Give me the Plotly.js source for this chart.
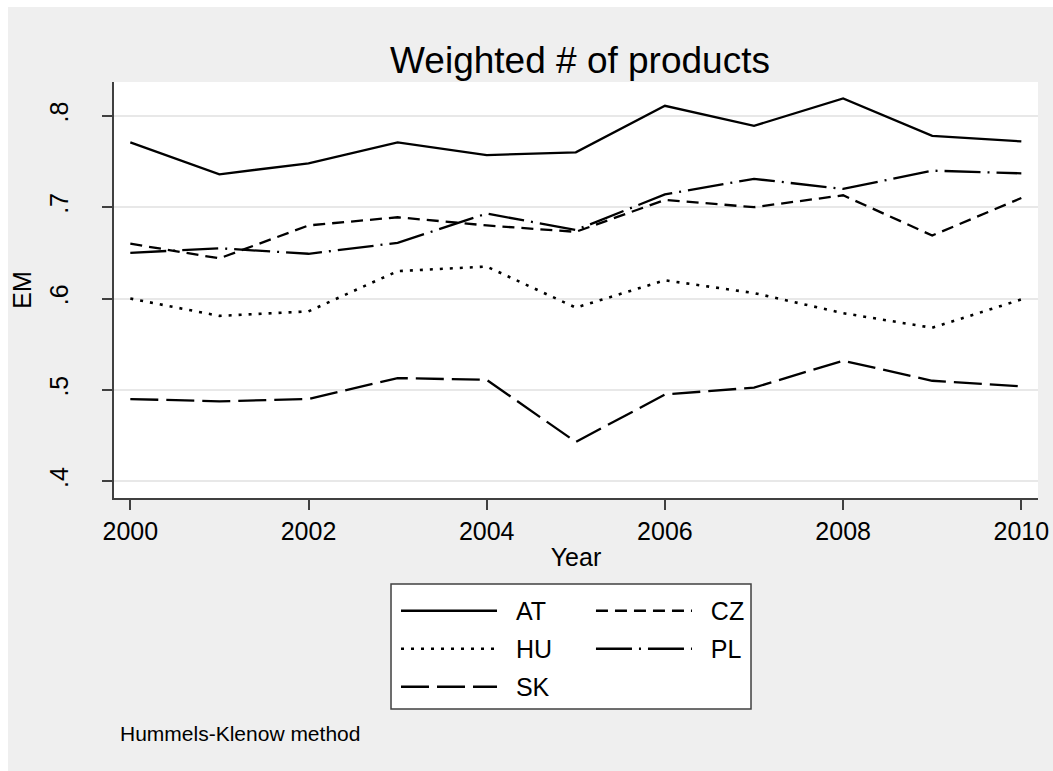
<!DOCTYPE html>
<html>
<head>
<meta charset="utf-8">
<script src="https://cdn.plot.ly/plotly-3.0.1.min.js"></script>
<style>
  html, body { margin: 0; padding: 0; background: #ffffff; }
  #chart { position: absolute; left: 8px; top: 7px; width: 1045px; height: 764px; }
</style>
</head>
<body>
<div id="chart"></div>
<script>
const years = [2000, 2001, 2002, 2003, 2004, 2005, 2006, 2007, 2008, 2009, 2010];
const AT = [0.771, 0.736, 0.748, 0.771, 0.757, 0.760, 0.811, 0.789, 0.819, 0.778, 0.772];
const CZ = [0.660, 0.644, 0.680, 0.689, 0.680, 0.673, 0.708, 0.700, 0.713, 0.669, 0.710];
const HU = [0.600, 0.581, 0.586, 0.630, 0.635, 0.590, 0.620, 0.606, 0.584, 0.568, 0.599];
const PL = [0.650, 0.655, 0.649, 0.661, 0.693, 0.675, 0.714, 0.731, 0.720, 0.740, 0.737];
const SK = [0.490, 0.4875, 0.490, 0.513, 0.511, 0.443, 0.495, 0.5025, 0.532, 0.510, 0.504];
const yTickVals = [0.4, 0.5, 0.6, 0.7, 0.8];
const yTickText = ['.4', '.5', '.6', '.7', '.8'];
const xTickVals = [2000, 2002, 2004, 2006, 2008, 2010];

const FONT = 'Liberation Sans, Arial, sans-serif';
const NB = '\u00a0\u00a0';
function tr(name, y, dash, width, legend) {
  return {
    x: years, y: y, name: NB + name, type: 'scatter', mode: 'lines',
    line: { color: '#000000', width: width, dash: dash },
    legend: legend, legendgroup: name, hoverinfo: 'x+y+name'
  };
}
const data = [
  tr('AT', AT, 'solid', 2.3, 'legend'),
  tr('CZ', CZ, '12px,7px', 2.3, 'legend2'),
  tr('HU', HU, '3px,7px', 2.6, 'legend'),
  tr('PL', PL, '36px,7px,2px,7px', 2.3, 'legend2'),
  tr('SK', SK, '28px,8px', 2.3, 'legend')
];

const legendCommon = {
  bgcolor: 'rgba(0,0,0,0)', borderwidth: 0,
  font: { family: FONT, size: 25, color: '#000' },
  itemwidth: 96, tracegroupgap: 2.5, traceorder: 'grouped',
  xref: 'paper', yref: 'paper', xanchor: 'left', yanchor: 'top',
  orientation: 'v', itemclick: false, itemdoubleclick: false
};

const layout = {
  width: 1045, height: 764,
  paper_bgcolor: '#efefef', plot_bgcolor: '#ffffff',
  margin: { l: 106, r: 15, t: 75, b: 273, pad: 0 },
  font: { family: FONT, color: '#000000' },
  showlegend: true,
  title: {
    text: 'Weighted # of products',
    font: { family: FONT, size: 37, color: '#000' },
    x: 0.5474, xref: 'container', xanchor: 'center',
    y: 1 - 53 / 764, yref: 'container', yanchor: 'middle'
  },
  xaxis: {
    range: [1999.817, 2010.187], tickvals: xTickVals, ticktext: xTickVals.map(String),
    tickangle: 0,
    showgrid: false, zeroline: false,
    showline: true, linecolor: '#404040', linewidth: 1.5,
    ticks: 'outside', ticklen: 10, tickwidth: 1.5, tickcolor: '#404040',
    tickfont: { family: FONT, size: 25, color: '#000' },
    title: { text: 'Year', font: { family: FONT, size: 25, color: '#000' }, standoff: 5 },
    automargin: false
  },
  yaxis: {
    range: [0.3817, 0.837], tickvals: yTickVals, ticktext: yTickText,
    showgrid: true, gridcolor: '#e8e8e8', gridwidth: 2, zeroline: false,
    showline: true, linecolor: '#404040', linewidth: 1.5,
    ticks: 'outside', ticklen: 10, tickwidth: 1.5, tickcolor: '#404040',
    tickangle: -90, ticklabelstandoff: 24,
    tickfont: { family: FONT, size: 25, color: '#000' },
    title: { text: 'EM', font: { family: FONT, size: 25, color: '#000' }, standoff: 12 },
    automargin: false
  },
  legend: Object.assign({}, legendCommon, { x: 0.3052, y: -0.2163 }),
  legend2: Object.assign({}, legendCommon, { x: 0.5162, y: -0.2163 }),
  shapes: [{
    type: 'rect', xref: 'paper', yref: 'paper',
    x0: 0.2998, x1: 0.6894, y0: -0.2067, y1: -0.5072,
    fillcolor: '#ffffff', line: { color: '#404040', width: 1.5 }, layer: 'above'
  }],
  annotations: [{
    text: 'Hummels-Klenow method', xref: 'paper', yref: 'paper',
    x: 0.0043, y: -0.565, xanchor: 'left', yanchor: 'middle', showarrow: false,
    font: { family: FONT, size: 21, color: '#000' }
  }]
};

Plotly.newPlot('chart', data, layout, { displayModeBar: false });
</script>
</body>
</html>
